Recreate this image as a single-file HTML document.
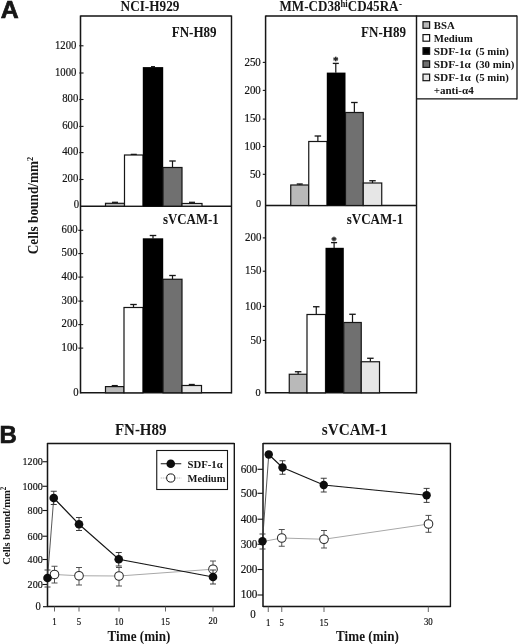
<!DOCTYPE html>
<html><head><meta charset="utf-8"><title>Figure</title>
<style>
html,body{margin:0;padding:0;background:#fff;}
body{width:520px;height:644px;overflow:hidden;font-family:"Liberation Serif",serif;}
svg{display:block;}
</style></head><body>
<svg width="520" height="644" viewBox="0 0 520 644">
<defs><filter id="soft" x="0" y="0" width="520" height="644" filterUnits="userSpaceOnUse"><feGaussianBlur stdDeviation="0.42"/></filter></defs>
<rect x="0" y="0" width="520" height="644" fill="#ffffff"/>
<g filter="url(#soft)">
<text transform="translate(0.8,18.3) scale(1.0,1)" font-family="'Liberation Sans', serif" font-size="24.8" font-weight="bold" text-anchor="start" fill="#141414" stroke="#141414" stroke-width="0.7" stroke-linejoin="miter">A</text>
<text transform="translate(-0.6,442.6) scale(0.97,1)" font-family="'Liberation Sans', serif" font-size="24.8" font-weight="bold" text-anchor="start" fill="#141414" stroke="#141414" stroke-width="0.6">B</text>
<text transform="translate(150,11) scale(0.92,1)" font-family="'Liberation Serif', serif" font-size="14.4" font-weight="bold" text-anchor="middle" fill="#141414" >NCI-H929</text>
<text transform="translate(279.5,11.2) scale(0.915,1)" font-family="'Liberation Serif', serif" font-size="14.3" font-weight="bold" fill="#141414">MM-CD38<tspan font-size="9.5" dy="-4.2">hi</tspan><tspan dy="4.2">CD45RA</tspan><tspan font-size="10" dy="-4.5" dx="0.5">-</tspan></text>
<text transform="translate(37.6,205.5) rotate(-90) scale(0.93,1)" font-family="'Liberation Serif', serif" font-size="14.3" font-weight="bold" text-anchor="middle" fill="#141414">Cells bound/mm<tspan font-size="9" dy="-4.8">2</tspan></text>
<line x1="80.5" y1="15.4" x2="80.5" y2="393.40000000000003" stroke="#141414" stroke-width="1.5" />
<line x1="231.5" y1="15.4" x2="231.5" y2="393.40000000000003" stroke="#141414" stroke-width="1.4" />
<line x1="80.5" y1="16" x2="231.5" y2="16" stroke="#141414" stroke-width="1.4" />
<line x1="80.5" y1="206.2" x2="231.5" y2="206.2" stroke="#141414" stroke-width="1.4" />
<line x1="80.5" y1="392.8" x2="231.5" y2="392.8" stroke="#141414" stroke-width="1.4" />
<text transform="translate(216.6,37.3) scale(0.9,1)" font-family="'Liberation Serif', serif" font-size="14.5" font-weight="bold" text-anchor="end" fill="#141414" >FN-H89</text>
<text transform="translate(218.8,223.8) scale(0.89,1)" font-family="'Liberation Serif', serif" font-size="14.5" font-weight="bold" text-anchor="end" fill="#141414" >sVCAM-1</text>
<line x1="79.3" y1="179.5" x2="83.5" y2="179.5" stroke="#141414" stroke-width="1.1" />
<text transform="translate(78.3,182.2) scale(0.93,1)" font-family="'Liberation Serif', serif" font-size="11.5" font-weight="normal" text-anchor="end" fill="#141414" stroke="#141414" stroke-width="0.2">200</text>
<line x1="79.3" y1="152.6" x2="83.5" y2="152.6" stroke="#141414" stroke-width="1.1" />
<text transform="translate(78.3,155.29999999999998) scale(0.93,1)" font-family="'Liberation Serif', serif" font-size="11.5" font-weight="normal" text-anchor="end" fill="#141414" stroke="#141414" stroke-width="0.2">400</text>
<line x1="79.3" y1="126.4" x2="83.5" y2="126.4" stroke="#141414" stroke-width="1.1" />
<text transform="translate(78.3,129.1) scale(0.93,1)" font-family="'Liberation Serif', serif" font-size="11.5" font-weight="normal" text-anchor="end" fill="#141414" stroke="#141414" stroke-width="0.2">600</text>
<line x1="79.3" y1="99.5" x2="83.5" y2="99.5" stroke="#141414" stroke-width="1.1" />
<text transform="translate(78.3,102.2) scale(0.93,1)" font-family="'Liberation Serif', serif" font-size="11.5" font-weight="normal" text-anchor="end" fill="#141414" stroke="#141414" stroke-width="0.2">800</text>
<line x1="79.3" y1="73.0" x2="83.5" y2="73.0" stroke="#141414" stroke-width="1.1" />
<text transform="translate(76.4,75.7) scale(0.93,1)" font-family="'Liberation Serif', serif" font-size="11.5" font-weight="normal" text-anchor="end" fill="#141414" stroke="#141414" stroke-width="0.2">1000</text>
<line x1="79.3" y1="45.8" x2="83.5" y2="45.8" stroke="#141414" stroke-width="1.1" />
<text transform="translate(76.4,48.5) scale(0.93,1)" font-family="'Liberation Serif', serif" font-size="11.5" font-weight="normal" text-anchor="end" fill="#141414" stroke="#141414" stroke-width="0.2">1200</text>
<text transform="translate(79.2,208.3) scale(0.93,1)" font-family="'Liberation Serif', serif" font-size="11.5" font-weight="normal" text-anchor="end" fill="#141414" stroke="#141414" stroke-width="0.2">0</text>
<line x1="78.3" y1="230.3" x2="83.2" y2="230.3" stroke="#141414" stroke-width="1.1" />
<text transform="translate(77.6,233.10000000000002) scale(0.93,1)" font-family="'Liberation Serif', serif" font-size="11.5" font-weight="normal" text-anchor="end" fill="#141414" stroke="#141414" stroke-width="0.2">600</text>
<line x1="78.3" y1="253.6" x2="83.2" y2="253.6" stroke="#141414" stroke-width="1.1" />
<text transform="translate(77.6,256.4) scale(0.93,1)" font-family="'Liberation Serif', serif" font-size="11.5" font-weight="normal" text-anchor="end" fill="#141414" stroke="#141414" stroke-width="0.2">500</text>
<line x1="78.3" y1="277.1" x2="83.2" y2="277.1" stroke="#141414" stroke-width="1.1" />
<text transform="translate(77.6,279.90000000000003) scale(0.93,1)" font-family="'Liberation Serif', serif" font-size="11.5" font-weight="normal" text-anchor="end" fill="#141414" stroke="#141414" stroke-width="0.2">400</text>
<line x1="78.3" y1="301.1" x2="83.2" y2="301.1" stroke="#141414" stroke-width="1.1" />
<text transform="translate(77.6,303.90000000000003) scale(0.93,1)" font-family="'Liberation Serif', serif" font-size="11.5" font-weight="normal" text-anchor="end" fill="#141414" stroke="#141414" stroke-width="0.2">300</text>
<line x1="78.3" y1="324.6" x2="83.2" y2="324.6" stroke="#141414" stroke-width="1.1" />
<text transform="translate(77.6,327.40000000000003) scale(0.93,1)" font-family="'Liberation Serif', serif" font-size="11.5" font-weight="normal" text-anchor="end" fill="#141414" stroke="#141414" stroke-width="0.2">200</text>
<line x1="78.3" y1="348.1" x2="83.2" y2="348.1" stroke="#141414" stroke-width="1.1" />
<text transform="translate(77.6,350.90000000000003) scale(0.93,1)" font-family="'Liberation Serif', serif" font-size="11.5" font-weight="normal" text-anchor="end" fill="#141414" stroke="#141414" stroke-width="0.2">100</text>
<text transform="translate(78.6,396.2) scale(0.93,1)" font-family="'Liberation Serif', serif" font-size="11.5" font-weight="normal" text-anchor="end" fill="#141414" stroke="#141414" stroke-width="0.2">0</text>
<line x1="115.0" y1="203.3" x2="115.0" y2="202.3" stroke="#141414" stroke-width="1.2" />
<line x1="112.0" y1="202.3" x2="118.0" y2="202.3" stroke="#141414" stroke-width="1.3" />
<rect x="105.5" y="203.3" width="19.0" height="2.8999999999999773" fill="#b9b9b9" stroke="#141414" stroke-width="1.2"/>
<line x1="133.75" y1="155" x2="133.75" y2="154.4" stroke="#141414" stroke-width="1.2" />
<line x1="130.75" y1="154.4" x2="136.75" y2="154.4" stroke="#141414" stroke-width="1.3" />
<rect x="124.5" y="155" width="18.5" height="51.19999999999999" fill="#ffffff" stroke="#141414" stroke-width="1.2"/>
<line x1="153.0" y1="67.3" x2="153.0" y2="66.7" stroke="#141414" stroke-width="1.2" />
<line x1="151.0" y1="66.7" x2="155.0" y2="66.7" stroke="#141414" stroke-width="1.3" />
<rect x="142.8" y="67.1" width="20.4" height="139.09999999999997" fill="#050505"/>
<line x1="172.5" y1="167.5" x2="172.5" y2="161" stroke="#141414" stroke-width="1.2" />
<line x1="169.25" y1="161" x2="175.75" y2="161" stroke="#141414" stroke-width="1.3" />
<rect x="163" y="167.5" width="19" height="38.69999999999999" fill="#6f6f6f" stroke="#141414" stroke-width="1.2"/>
<line x1="192.0" y1="203.5" x2="192.0" y2="202.3" stroke="#141414" stroke-width="1.2" />
<line x1="189.0" y1="202.3" x2="195.0" y2="202.3" stroke="#141414" stroke-width="1.3" />
<rect x="182" y="203.5" width="20" height="2.6999999999999886" fill="#e6e6e6" stroke="#141414" stroke-width="1.2"/>
<line x1="114.75" y1="386.6" x2="114.75" y2="385.6" stroke="#141414" stroke-width="1.2" />
<line x1="111.75" y1="385.6" x2="117.75" y2="385.6" stroke="#141414" stroke-width="1.3" />
<rect x="105.5" y="386.6" width="18.5" height="6.199999999999989" fill="#b9b9b9" stroke="#141414" stroke-width="1.2"/>
<line x1="133.5" y1="307.5" x2="133.5" y2="304.5" stroke="#141414" stroke-width="1.2" />
<line x1="130.25" y1="304.5" x2="136.75" y2="304.5" stroke="#141414" stroke-width="1.3" />
<rect x="124" y="307.5" width="19" height="85.30000000000001" fill="#ffffff" stroke="#141414" stroke-width="1.2"/>
<line x1="153.0" y1="238.5" x2="153.0" y2="235.5" stroke="#141414" stroke-width="1.2" />
<line x1="149.75" y1="235.5" x2="156.25" y2="235.5" stroke="#141414" stroke-width="1.3" />
<rect x="142.8" y="238.3" width="20.4" height="154.5" fill="#050505"/>
<line x1="172.5" y1="279.25" x2="172.5" y2="275.5" stroke="#141414" stroke-width="1.2" />
<line x1="169.25" y1="275.5" x2="175.75" y2="275.5" stroke="#141414" stroke-width="1.3" />
<rect x="163" y="279.25" width="19" height="113.55000000000001" fill="#6f6f6f" stroke="#141414" stroke-width="1.2"/>
<line x1="191.75" y1="385.5" x2="191.75" y2="384.5" stroke="#141414" stroke-width="1.2" />
<line x1="188.75" y1="384.5" x2="194.75" y2="384.5" stroke="#141414" stroke-width="1.3" />
<rect x="182" y="385.5" width="19.5" height="7.300000000000011" fill="#e6e6e6" stroke="#141414" stroke-width="1.2"/>
<line x1="265.6" y1="15.4" x2="265.6" y2="393.40000000000003" stroke="#141414" stroke-width="1.5" />
<line x1="416.5" y1="15.4" x2="416.5" y2="393.40000000000003" stroke="#141414" stroke-width="1.4" />
<line x1="265.6" y1="16" x2="517" y2="16" stroke="#141414" stroke-width="1.4" />
<line x1="265.6" y1="205.5" x2="416.5" y2="205.5" stroke="#141414" stroke-width="1.4" />
<line x1="265.6" y1="392.8" x2="416.5" y2="392.8" stroke="#141414" stroke-width="1.4" />
<line x1="517" y1="15.4" x2="517" y2="99.4" stroke="#141414" stroke-width="1.3" />
<line x1="416.5" y1="98.8" x2="517" y2="98.8" stroke="#141414" stroke-width="1.3" />
<text transform="translate(406,37.3) scale(0.9,1)" font-family="'Liberation Serif', serif" font-size="14.5" font-weight="bold" text-anchor="end" fill="#141414" >FN-H89</text>
<text transform="translate(403.2,224.1) scale(0.9,1)" font-family="'Liberation Serif', serif" font-size="14.5" font-weight="bold" text-anchor="end" fill="#141414" >sVCAM-1</text>
<line x1="262.8" y1="174.3" x2="265.6" y2="174.3" stroke="#141414" stroke-width="1.1" />
<text transform="translate(260.8,177.55) scale(0.95,1)" font-family="'Liberation Serif', serif" font-size="11.5" font-weight="normal" text-anchor="end" fill="#141414" stroke="#141414" stroke-width="0.2">50</text>
<line x1="262.8" y1="146.5" x2="265.6" y2="146.5" stroke="#141414" stroke-width="1.1" />
<text transform="translate(260.8,149.75) scale(0.95,1)" font-family="'Liberation Serif', serif" font-size="11.5" font-weight="normal" text-anchor="end" fill="#141414" stroke="#141414" stroke-width="0.2">100</text>
<line x1="262.8" y1="119.1" x2="265.6" y2="119.1" stroke="#141414" stroke-width="1.1" />
<text transform="translate(260.8,122.35) scale(0.95,1)" font-family="'Liberation Serif', serif" font-size="11.5" font-weight="normal" text-anchor="end" fill="#141414" stroke="#141414" stroke-width="0.2">150</text>
<line x1="262.8" y1="90.4" x2="265.6" y2="90.4" stroke="#141414" stroke-width="1.1" />
<text transform="translate(260.8,93.65) scale(0.95,1)" font-family="'Liberation Serif', serif" font-size="11.5" font-weight="normal" text-anchor="end" fill="#141414" stroke="#141414" stroke-width="0.2">200</text>
<line x1="262.8" y1="62.4" x2="265.6" y2="62.4" stroke="#141414" stroke-width="1.1" />
<text transform="translate(260.8,65.65) scale(0.95,1)" font-family="'Liberation Serif', serif" font-size="11.5" font-weight="normal" text-anchor="end" fill="#141414" stroke="#141414" stroke-width="0.2">250</text>
<text transform="translate(261,207) scale(0.93,1)" font-family="'Liberation Serif', serif" font-size="11" font-weight="normal" text-anchor="end" fill="#141414" stroke="#141414" stroke-width="0.2">0</text>
<line x1="262.8" y1="340.4" x2="265.6" y2="340.4" stroke="#141414" stroke-width="1.1" />
<text transform="translate(261.4,343.65) scale(0.95,1)" font-family="'Liberation Serif', serif" font-size="11.5" font-weight="normal" text-anchor="end" fill="#141414" stroke="#141414" stroke-width="0.2">50</text>
<line x1="262.8" y1="306.4" x2="265.6" y2="306.4" stroke="#141414" stroke-width="1.1" />
<text transform="translate(261.4,309.65) scale(0.95,1)" font-family="'Liberation Serif', serif" font-size="11.5" font-weight="normal" text-anchor="end" fill="#141414" stroke="#141414" stroke-width="0.2">100</text>
<line x1="262.8" y1="271.2" x2="265.6" y2="271.2" stroke="#141414" stroke-width="1.1" />
<text transform="translate(261.4,274.45) scale(0.95,1)" font-family="'Liberation Serif', serif" font-size="11.5" font-weight="normal" text-anchor="end" fill="#141414" stroke="#141414" stroke-width="0.2">150</text>
<line x1="262.8" y1="237.9" x2="265.6" y2="237.9" stroke="#141414" stroke-width="1.1" />
<text transform="translate(261.4,241.15) scale(0.95,1)" font-family="'Liberation Serif', serif" font-size="11.5" font-weight="normal" text-anchor="end" fill="#141414" stroke="#141414" stroke-width="0.2">200</text>
<text transform="translate(260.6,396.3) scale(0.93,1)" font-family="'Liberation Serif', serif" font-size="11" font-weight="normal" text-anchor="end" fill="#141414" stroke="#141414" stroke-width="0.2">0</text>
<line x1="299.75" y1="185" x2="299.75" y2="184" stroke="#141414" stroke-width="1.2" />
<line x1="296.75" y1="184" x2="302.75" y2="184" stroke="#141414" stroke-width="1.3" />
<rect x="290.75" y="185" width="18.0" height="20.5" fill="#b9b9b9" stroke="#141414" stroke-width="1.2"/>
<line x1="317.875" y1="141.5" x2="317.875" y2="136" stroke="#141414" stroke-width="1.2" />
<line x1="314.625" y1="136" x2="321.125" y2="136" stroke="#141414" stroke-width="1.3" />
<rect x="308.75" y="141.5" width="18.25" height="64.0" fill="#ffffff" stroke="#141414" stroke-width="1.2"/>
<line x1="335.8" y1="72.8" x2="335.8" y2="63.4" stroke="#141414" stroke-width="1.2" />
<line x1="332.8" y1="63.4" x2="338.8" y2="63.4" stroke="#141414" stroke-width="1.3" />
<rect x="326.8" y="72.6" width="18.70000000000001" height="132.89999999999998" fill="#050505"/>
<line x1="354.375" y1="112.5" x2="354.375" y2="102.5" stroke="#141414" stroke-width="1.2" />
<line x1="351.125" y1="102.5" x2="357.625" y2="102.5" stroke="#141414" stroke-width="1.3" />
<rect x="345.5" y="112.5" width="17.75" height="93.0" fill="#6f6f6f" stroke="#141414" stroke-width="1.2"/>
<line x1="372.5" y1="183" x2="372.5" y2="180.75" stroke="#141414" stroke-width="1.2" />
<line x1="369.25" y1="180.75" x2="375.75" y2="180.75" stroke="#141414" stroke-width="1.3" />
<rect x="363.25" y="183" width="18.5" height="22.5" fill="#e6e6e6" stroke="#141414" stroke-width="1.2"/>
<text transform="translate(335.8,63.9) scale(1.0,1)" font-family="'Liberation Serif', serif" font-size="11" font-weight="bold" text-anchor="middle" fill="#141414" stroke="#141414" stroke-width="0.3">*</text>
<line x1="298.125" y1="374.25" x2="298.125" y2="371.75" stroke="#141414" stroke-width="1.2" />
<line x1="294.875" y1="371.75" x2="301.375" y2="371.75" stroke="#141414" stroke-width="1.3" />
<rect x="289.25" y="374.25" width="17.75" height="18.55000000000001" fill="#b9b9b9" stroke="#141414" stroke-width="1.2"/>
<line x1="316.25" y1="314.5" x2="316.25" y2="306.75" stroke="#141414" stroke-width="1.2" />
<line x1="313.0" y1="306.75" x2="319.5" y2="306.75" stroke="#141414" stroke-width="1.3" />
<rect x="307" y="314.5" width="18.5" height="78.30000000000001" fill="#ffffff" stroke="#141414" stroke-width="1.2"/>
<line x1="334.1" y1="248" x2="334.1" y2="242.6" stroke="#141414" stroke-width="1.2" />
<line x1="331.1" y1="242.6" x2="337.1" y2="242.6" stroke="#141414" stroke-width="1.3" />
<rect x="325.5" y="247.8" width="18.300000000000033" height="145.0" fill="#050505"/>
<line x1="352.5" y1="322.5" x2="352.5" y2="314.25" stroke="#141414" stroke-width="1.2" />
<line x1="349.25" y1="314.25" x2="355.75" y2="314.25" stroke="#141414" stroke-width="1.3" />
<rect x="343.75" y="322.5" width="17.5" height="70.30000000000001" fill="#6f6f6f" stroke="#141414" stroke-width="1.2"/>
<line x1="370.375" y1="361.75" x2="370.375" y2="358.25" stroke="#141414" stroke-width="1.2" />
<line x1="367.125" y1="358.25" x2="373.625" y2="358.25" stroke="#141414" stroke-width="1.3" />
<rect x="361.25" y="361.75" width="18.25" height="31.05000000000001" fill="#e6e6e6" stroke="#141414" stroke-width="1.2"/>
<text transform="translate(334.1,243.6) scale(1.0,1)" font-family="'Liberation Serif', serif" font-size="11" font-weight="bold" text-anchor="middle" fill="#141414" stroke="#141414" stroke-width="0.3">*</text>
<rect x="423" y="21.700000000000003" width="6.6" height="6.6" fill="#b9b9b9" stroke="#141414" stroke-width="1.2"/>
<text transform="translate(433.7,28.6) scale(1.0,1)" font-family="'Liberation Serif', serif" font-size="10.8" font-weight="bold" text-anchor="start" fill="#141414" >BSA</text>
<rect x="423" y="34.6" width="6.6" height="6.6" fill="#ffffff" stroke="#141414" stroke-width="1.2"/>
<text transform="translate(433.7,41.5) scale(1.0,1)" font-family="'Liberation Serif', serif" font-size="10.8" font-weight="bold" text-anchor="start" fill="#141414" >Medium</text>
<rect x="423" y="47.7" width="6.6" height="6.6" fill="#050505" stroke="#141414" stroke-width="1.2"/>
<text x="433.7" y="54.6" font-family="'Liberation Serif', serif" font-size="10.8" font-weight="bold" fill="#141414" textLength="37.2" lengthAdjust="spacingAndGlyphs">SDF-1α</text>
<text transform="translate(475.6,54.6) scale(1.0,1)" font-family="'Liberation Serif', serif" font-size="10.8" font-weight="bold" text-anchor="start" fill="#141414" >(5 min)</text>
<rect x="423" y="60.800000000000004" width="6.6" height="6.6" fill="#6f6f6f" stroke="#141414" stroke-width="1.2"/>
<text x="433.7" y="67.7" font-family="'Liberation Serif', serif" font-size="10.8" font-weight="bold" fill="#141414" textLength="37.2" lengthAdjust="spacingAndGlyphs">SDF-1α</text>
<text transform="translate(475.6,67.7) scale(1.0,1)" font-family="'Liberation Serif', serif" font-size="10.8" font-weight="bold" text-anchor="start" fill="#141414" >(30 min)</text>
<rect x="423" y="74.1" width="6.6" height="6.6" fill="#e6e6e6" stroke="#141414" stroke-width="1.2"/>
<text x="433.7" y="81" font-family="'Liberation Serif', serif" font-size="10.8" font-weight="bold" fill="#141414" textLength="37.2" lengthAdjust="spacingAndGlyphs">SDF-1α</text>
<text transform="translate(475.6,81) scale(1.0,1)" font-family="'Liberation Serif', serif" font-size="10.8" font-weight="bold" text-anchor="start" fill="#141414" >(5 min)</text>
<text x="433.7" y="93.5" font-family="'Liberation Serif', serif" font-size="10.8" font-weight="bold" fill="#141414" textLength="40" lengthAdjust="spacingAndGlyphs">+anti-α4</text>
<text transform="translate(140.7,435.3) scale(0.92,1)" font-family="'Liberation Serif', serif" font-size="16.3" font-weight="bold" text-anchor="middle" fill="#141414" >FN-H89</text>
<text transform="translate(354.7,435.3) scale(0.935,1)" font-family="'Liberation Serif', serif" font-size="16.3" font-weight="bold" text-anchor="middle" fill="#141414" >sVCAM-1</text>
<text transform="translate(139,640.5) scale(0.925,1)" font-family="'Liberation Serif', serif" font-size="14.2" font-weight="bold" text-anchor="middle" fill="#141414" >Time (min)</text>
<text transform="translate(367.5,640.5) scale(0.925,1)" font-family="'Liberation Serif', serif" font-size="14.2" font-weight="bold" text-anchor="middle" fill="#141414" >Time (min)</text>
<text transform="translate(9.8,525.7) rotate(-90) scale(0.93,1)" font-family="'Liberation Serif', serif" font-size="11.4" font-weight="bold" text-anchor="middle" fill="#141414">Cells bound/mm<tspan font-size="7.5" dy="-3.8">2</tspan></text>
<line x1="47.5" y1="442.9" x2="47.5" y2="607.1" stroke="#141414" stroke-width="1.5" />
<line x1="234.3" y1="442.9" x2="234.3" y2="607.1" stroke="#141414" stroke-width="1.4" />
<line x1="47.5" y1="443.5" x2="234.3" y2="443.5" stroke="#141414" stroke-width="1.4" />
<line x1="47.5" y1="606.5" x2="234.3" y2="606.5" stroke="#141414" stroke-width="1.4" />
<line x1="42.5" y1="461.75" x2="47.5" y2="461.75" stroke="#141414" stroke-width="1.1" />
<text transform="translate(42.7,465.15) scale(0.9,1)" font-family="'Liberation Serif', serif" font-size="11.2" font-weight="normal" text-anchor="end" fill="#141414" stroke="#141414" stroke-width="0.2">1200</text>
<line x1="42.5" y1="486.25" x2="47.5" y2="486.25" stroke="#141414" stroke-width="1.1" />
<text transform="translate(42.7,489.65) scale(0.9,1)" font-family="'Liberation Serif', serif" font-size="11.2" font-weight="normal" text-anchor="end" fill="#141414" stroke="#141414" stroke-width="0.2">1000</text>
<line x1="42.5" y1="510.5" x2="47.5" y2="510.5" stroke="#141414" stroke-width="1.1" />
<text transform="translate(42.7,513.9) scale(0.9,1)" font-family="'Liberation Serif', serif" font-size="11.2" font-weight="normal" text-anchor="end" fill="#141414" stroke="#141414" stroke-width="0.2">800</text>
<line x1="42.5" y1="536.2" x2="47.5" y2="536.2" stroke="#141414" stroke-width="1.1" />
<text transform="translate(42.7,539.6) scale(0.9,1)" font-family="'Liberation Serif', serif" font-size="11.2" font-weight="normal" text-anchor="end" fill="#141414" stroke="#141414" stroke-width="0.2">600</text>
<line x1="42.5" y1="559.5" x2="47.5" y2="559.5" stroke="#141414" stroke-width="1.1" />
<text transform="translate(42.7,562.9) scale(0.9,1)" font-family="'Liberation Serif', serif" font-size="11.2" font-weight="normal" text-anchor="end" fill="#141414" stroke="#141414" stroke-width="0.2">400</text>
<line x1="42.5" y1="584.5" x2="47.5" y2="584.5" stroke="#141414" stroke-width="1.1" />
<text transform="translate(42.7,587.9) scale(0.9,1)" font-family="'Liberation Serif', serif" font-size="11.2" font-weight="normal" text-anchor="end" fill="#141414" stroke="#141414" stroke-width="0.2">200</text>
<text transform="translate(40.8,610.2) scale(0.925,1)" font-family="'Liberation Serif', serif" font-size="11.5" font-weight="normal" text-anchor="end" fill="#141414" stroke="#141414" stroke-width="0.2">0</text>
<line x1="43.0" y1="606.7" x2="47.5" y2="606.7" stroke="#141414" stroke-width="1.1" />
<line x1="54.5" y1="606.5" x2="54.5" y2="611.5" stroke="#555" stroke-width="0.9" />
<text transform="translate(54.5,624.7) scale(0.9,1)" font-family="'Liberation Serif', serif" font-size="9.8" font-weight="normal" text-anchor="middle" fill="#141414" stroke="#141414" stroke-width="0.2">1</text>
<line x1="79" y1="606.5" x2="79" y2="611.5" stroke="#555" stroke-width="0.9" />
<text transform="translate(79,624.7) scale(0.9,1)" font-family="'Liberation Serif', serif" font-size="9.8" font-weight="normal" text-anchor="middle" fill="#141414" stroke="#141414" stroke-width="0.2">5</text>
<line x1="119" y1="606.5" x2="119" y2="611.5" stroke="#555" stroke-width="0.9" />
<text transform="translate(119,624.7) scale(0.9,1)" font-family="'Liberation Serif', serif" font-size="9.8" font-weight="normal" text-anchor="middle" fill="#141414" stroke="#141414" stroke-width="0.2">10</text>
<line x1="165.5" y1="606.5" x2="165.5" y2="611.5" stroke="#555" stroke-width="0.9" />
<text transform="translate(165.5,624.7) scale(0.9,1)" font-family="'Liberation Serif', serif" font-size="9.8" font-weight="normal" text-anchor="middle" fill="#141414" stroke="#141414" stroke-width="0.2">15</text>
<line x1="213" y1="606.5" x2="213" y2="611.5" stroke="#555" stroke-width="0.9" />
<text transform="translate(213,624.0) scale(0.9,1)" font-family="'Liberation Serif', serif" font-size="9.8" font-weight="normal" text-anchor="middle" fill="#141414" stroke="#141414" stroke-width="0.2">20</text>
<polyline fill="none" stroke="#a8a8a8" stroke-width="1" points="54.5,574.5 79,575.75 119,576 213,569.2"/>
<line x1="54.5" y1="566.25" x2="54.5" y2="583" stroke="#4a4a4a" stroke-width="0.95" />
<line x1="51.5" y1="566.25" x2="57.5" y2="566.25" stroke="#4a4a4a" stroke-width="0.95" />
<line x1="51.5" y1="583" x2="57.5" y2="583" stroke="#4a4a4a" stroke-width="0.95" />
<line x1="79" y1="567.5" x2="79" y2="585" stroke="#4a4a4a" stroke-width="0.95" />
<line x1="76.0" y1="567.5" x2="82.0" y2="567.5" stroke="#4a4a4a" stroke-width="0.95" />
<line x1="76.0" y1="585" x2="82.0" y2="585" stroke="#4a4a4a" stroke-width="0.95" />
<line x1="119" y1="567.5" x2="119" y2="586" stroke="#4a4a4a" stroke-width="0.95" />
<line x1="116.0" y1="567.5" x2="122.0" y2="567.5" stroke="#4a4a4a" stroke-width="0.95" />
<line x1="116.0" y1="586" x2="122.0" y2="586" stroke="#4a4a4a" stroke-width="0.95" />
<line x1="213" y1="561" x2="213" y2="578" stroke="#4a4a4a" stroke-width="0.95" />
<line x1="210.0" y1="561" x2="216.0" y2="561" stroke="#4a4a4a" stroke-width="0.95" />
<line x1="210.0" y1="578" x2="216.0" y2="578" stroke="#4a4a4a" stroke-width="0.95" />
<circle cx="54.5" cy="574.5" r="4.3" fill="#fff" stroke="#2a2a2a" stroke-width="1.05"/>
<circle cx="79" cy="575.75" r="4.3" fill="#fff" stroke="#2a2a2a" stroke-width="1.05"/>
<circle cx="119" cy="576" r="4.3" fill="#fff" stroke="#2a2a2a" stroke-width="1.05"/>
<circle cx="213" cy="569.2" r="4.3" fill="#fff" stroke="#2a2a2a" stroke-width="1.05"/>
<line x1="47.5" y1="578" x2="53.75" y2="498" stroke="#3a3a3a" stroke-width="0.85" />
<polyline fill="none" stroke="#141414" stroke-width="1.1" points="53.75,498 79,524.25 118.75,559.25 213,577"/>
<line x1="47.5" y1="570" x2="47.5" y2="587" stroke="#333" stroke-width="0.95" />
<line x1="44.5" y1="570" x2="50.5" y2="570" stroke="#333" stroke-width="0.95" />
<line x1="44.5" y1="587" x2="50.5" y2="587" stroke="#333" stroke-width="0.95" />
<line x1="53.75" y1="491.25" x2="53.75" y2="504.5" stroke="#333" stroke-width="0.95" />
<line x1="50.75" y1="491.25" x2="56.75" y2="491.25" stroke="#333" stroke-width="0.95" />
<line x1="50.75" y1="504.5" x2="56.75" y2="504.5" stroke="#333" stroke-width="0.95" />
<line x1="79" y1="517.5" x2="79" y2="530.5" stroke="#333" stroke-width="0.95" />
<line x1="76.0" y1="517.5" x2="82.0" y2="517.5" stroke="#333" stroke-width="0.95" />
<line x1="76.0" y1="530.5" x2="82.0" y2="530.5" stroke="#333" stroke-width="0.95" />
<line x1="118.75" y1="552.5" x2="118.75" y2="566" stroke="#333" stroke-width="0.95" />
<line x1="115.75" y1="552.5" x2="121.75" y2="552.5" stroke="#333" stroke-width="0.95" />
<line x1="115.75" y1="566" x2="121.75" y2="566" stroke="#333" stroke-width="0.95" />
<line x1="213" y1="570" x2="213" y2="584" stroke="#333" stroke-width="0.95" />
<line x1="210.0" y1="570" x2="216.0" y2="570" stroke="#333" stroke-width="0.95" />
<line x1="210.0" y1="584" x2="216.0" y2="584" stroke="#333" stroke-width="0.95" />
<circle cx="47.5" cy="578" r="4.3" fill="#0a0a0a"/>
<circle cx="53.75" cy="498" r="4.3" fill="#0a0a0a"/>
<circle cx="79" cy="524.25" r="4.3" fill="#0a0a0a"/>
<circle cx="118.75" cy="559.25" r="4.3" fill="#0a0a0a"/>
<circle cx="213" cy="577" r="4.3" fill="#0a0a0a"/>
<rect x="156.75" y="450.5" width="70.75" height="39" fill="#fff" stroke="#141414" stroke-width="1.1"/>
<line x1="160.75" y1="463.75" x2="181.25" y2="463.75" stroke="#141414" stroke-width="1.0" />
<circle cx="170.75" cy="463.75" r="4.3" fill="#0a0a0a"/>
<line x1="160.75" y1="478" x2="181.25" y2="478" stroke="#a8a8a8" stroke-width="1.0" stroke-dasharray="1 1"/>
<circle cx="170.75" cy="478" r="4.1" fill="#fff" stroke="#141414" stroke-width="1"/>
<text transform="translate(187.5,467.5) scale(0.95,1)" font-family="'Liberation Serif', serif" font-size="11.3" font-weight="bold" text-anchor="start" fill="#141414" >SDF-1α</text>
<text transform="translate(187.5,481.8) scale(0.93,1)" font-family="'Liberation Serif', serif" font-size="11.3" font-weight="bold" text-anchor="start" fill="#141414" >Medium</text>
<line x1="263" y1="442.9" x2="263" y2="607.1" stroke="#141414" stroke-width="1.5" />
<line x1="450.4" y1="442.9" x2="450.4" y2="607.1" stroke="#141414" stroke-width="1.4" />
<line x1="263" y1="443.5" x2="450.4" y2="443.5" stroke="#141414" stroke-width="1.4" />
<line x1="263" y1="606.5" x2="450.4" y2="606.5" stroke="#141414" stroke-width="1.4" />
<line x1="257.5" y1="469.3" x2="263" y2="469.3" stroke="#141414" stroke-width="1.1" />
<text transform="translate(257.4,472.6) scale(0.97,1)" font-family="'Liberation Serif', serif" font-size="11.5" font-weight="normal" text-anchor="end" fill="#141414" stroke="#141414" stroke-width="0.2">600</text>
<line x1="257.5" y1="493.3" x2="263" y2="493.3" stroke="#141414" stroke-width="1.1" />
<text transform="translate(257.4,496.6) scale(0.97,1)" font-family="'Liberation Serif', serif" font-size="11.5" font-weight="normal" text-anchor="end" fill="#141414" stroke="#141414" stroke-width="0.2">500</text>
<line x1="257.5" y1="519.2" x2="263" y2="519.2" stroke="#141414" stroke-width="1.1" />
<text transform="translate(257.4,522.5) scale(0.97,1)" font-family="'Liberation Serif', serif" font-size="11.5" font-weight="normal" text-anchor="end" fill="#141414" stroke="#141414" stroke-width="0.2">400</text>
<line x1="257.5" y1="544.25" x2="263" y2="544.25" stroke="#141414" stroke-width="1.1" />
<text transform="translate(257.4,547.55) scale(0.97,1)" font-family="'Liberation Serif', serif" font-size="11.5" font-weight="normal" text-anchor="end" fill="#141414" stroke="#141414" stroke-width="0.2">300</text>
<line x1="257.5" y1="569.5" x2="263" y2="569.5" stroke="#141414" stroke-width="1.1" />
<text transform="translate(257.4,572.8) scale(0.97,1)" font-family="'Liberation Serif', serif" font-size="11.5" font-weight="normal" text-anchor="end" fill="#141414" stroke="#141414" stroke-width="0.2">200</text>
<line x1="257.5" y1="595" x2="263" y2="595" stroke="#141414" stroke-width="1.1" />
<text transform="translate(257.4,598.3) scale(0.97,1)" font-family="'Liberation Serif', serif" font-size="11.5" font-weight="normal" text-anchor="end" fill="#141414" stroke="#141414" stroke-width="0.2">100</text>
<text transform="translate(255.8,618.2) scale(0.95,1)" font-family="'Liberation Serif', serif" font-size="11.5" font-weight="normal" text-anchor="end" fill="#141414" stroke="#141414" stroke-width="0.2">0</text>
<line x1="268.25" y1="606.5" x2="268.25" y2="612.0" stroke="#555" stroke-width="0.9" />
<text transform="translate(268.25,625.6) scale(0.9,1)" font-family="'Liberation Serif', serif" font-size="9.8" font-weight="normal" text-anchor="middle" fill="#141414" stroke="#141414" stroke-width="0.2">1</text>
<line x1="281.75" y1="606.5" x2="281.75" y2="612.0" stroke="#555" stroke-width="0.9" />
<text transform="translate(281.75,625.6) scale(0.9,1)" font-family="'Liberation Serif', serif" font-size="9.8" font-weight="normal" text-anchor="middle" fill="#141414" stroke="#141414" stroke-width="0.2">5</text>
<line x1="324" y1="606.5" x2="324" y2="612.0" stroke="#555" stroke-width="0.9" />
<text transform="translate(324,625.6) scale(0.9,1)" font-family="'Liberation Serif', serif" font-size="9.8" font-weight="normal" text-anchor="middle" fill="#141414" stroke="#141414" stroke-width="0.2">15</text>
<line x1="428.3" y1="606.5" x2="428.3" y2="612.0" stroke="#555" stroke-width="0.9" />
<text transform="translate(428.3,624.7) scale(0.9,1)" font-family="'Liberation Serif', serif" font-size="9.8" font-weight="normal" text-anchor="middle" fill="#141414" stroke="#141414" stroke-width="0.2">30</text>
<polyline fill="none" stroke="#a8a8a8" stroke-width="1" points="263,541.5 281.75,538 324,539.25 428.5,524"/>
<line x1="281.75" y1="529.5" x2="281.75" y2="546.25" stroke="#4a4a4a" stroke-width="0.95" />
<line x1="278.75" y1="529.5" x2="284.75" y2="529.5" stroke="#4a4a4a" stroke-width="0.95" />
<line x1="278.75" y1="546.25" x2="284.75" y2="546.25" stroke="#4a4a4a" stroke-width="0.95" />
<line x1="324" y1="530.5" x2="324" y2="548" stroke="#4a4a4a" stroke-width="0.95" />
<line x1="321.0" y1="530.5" x2="327.0" y2="530.5" stroke="#4a4a4a" stroke-width="0.95" />
<line x1="321.0" y1="548" x2="327.0" y2="548" stroke="#4a4a4a" stroke-width="0.95" />
<line x1="428.5" y1="515.4" x2="428.5" y2="532.3" stroke="#4a4a4a" stroke-width="0.95" />
<line x1="425.5" y1="515.4" x2="431.5" y2="515.4" stroke="#4a4a4a" stroke-width="0.95" />
<line x1="425.5" y1="532.3" x2="431.5" y2="532.3" stroke="#4a4a4a" stroke-width="0.95" />
<circle cx="281.75" cy="538" r="4.3" fill="#fff" stroke="#2a2a2a" stroke-width="1.05"/>
<circle cx="324" cy="539.25" r="4.3" fill="#fff" stroke="#2a2a2a" stroke-width="1.05"/>
<circle cx="428.5" cy="524" r="4.3" fill="#fff" stroke="#2a2a2a" stroke-width="1.05"/>
<line x1="262.5" y1="541.25" x2="268.75" y2="454.5" stroke="#3a3a3a" stroke-width="0.85" />
<polyline fill="none" stroke="#141414" stroke-width="1.1" points="268.75,454.5 282.5,467.5 323.75,485 426.6,495.2"/>
<line x1="262.5" y1="534" x2="262.5" y2="549" stroke="#333" stroke-width="0.95" />
<line x1="259.5" y1="534" x2="265.5" y2="534" stroke="#333" stroke-width="0.95" />
<line x1="259.5" y1="549" x2="265.5" y2="549" stroke="#333" stroke-width="0.95" />
<line x1="268.75" y1="452" x2="268.75" y2="457" stroke="#333" stroke-width="0.95" />
<line x1="265.75" y1="452" x2="271.75" y2="452" stroke="#333" stroke-width="0.95" />
<line x1="265.75" y1="457" x2="271.75" y2="457" stroke="#333" stroke-width="0.95" />
<line x1="282.5" y1="460.75" x2="282.5" y2="474.25" stroke="#333" stroke-width="0.95" />
<line x1="279.5" y1="460.75" x2="285.5" y2="460.75" stroke="#333" stroke-width="0.95" />
<line x1="279.5" y1="474.25" x2="285.5" y2="474.25" stroke="#333" stroke-width="0.95" />
<line x1="323.75" y1="478.25" x2="323.75" y2="492" stroke="#333" stroke-width="0.95" />
<line x1="320.75" y1="478.25" x2="326.75" y2="478.25" stroke="#333" stroke-width="0.95" />
<line x1="320.75" y1="492" x2="326.75" y2="492" stroke="#333" stroke-width="0.95" />
<line x1="426.6" y1="488.4" x2="426.6" y2="502.4" stroke="#333" stroke-width="0.95" />
<line x1="423.6" y1="488.4" x2="429.6" y2="488.4" stroke="#333" stroke-width="0.95" />
<line x1="423.6" y1="502.4" x2="429.6" y2="502.4" stroke="#333" stroke-width="0.95" />
<circle cx="262.5" cy="541.25" r="4.2" fill="#0a0a0a"/>
<circle cx="268.75" cy="454.5" r="4.2" fill="#0a0a0a"/>
<circle cx="282.5" cy="467.5" r="4.2" fill="#0a0a0a"/>
<circle cx="323.75" cy="485" r="4.2" fill="#0a0a0a"/>
<circle cx="426.6" cy="495.2" r="4.2" fill="#0a0a0a"/>
</g>
</svg>
</body></html>
